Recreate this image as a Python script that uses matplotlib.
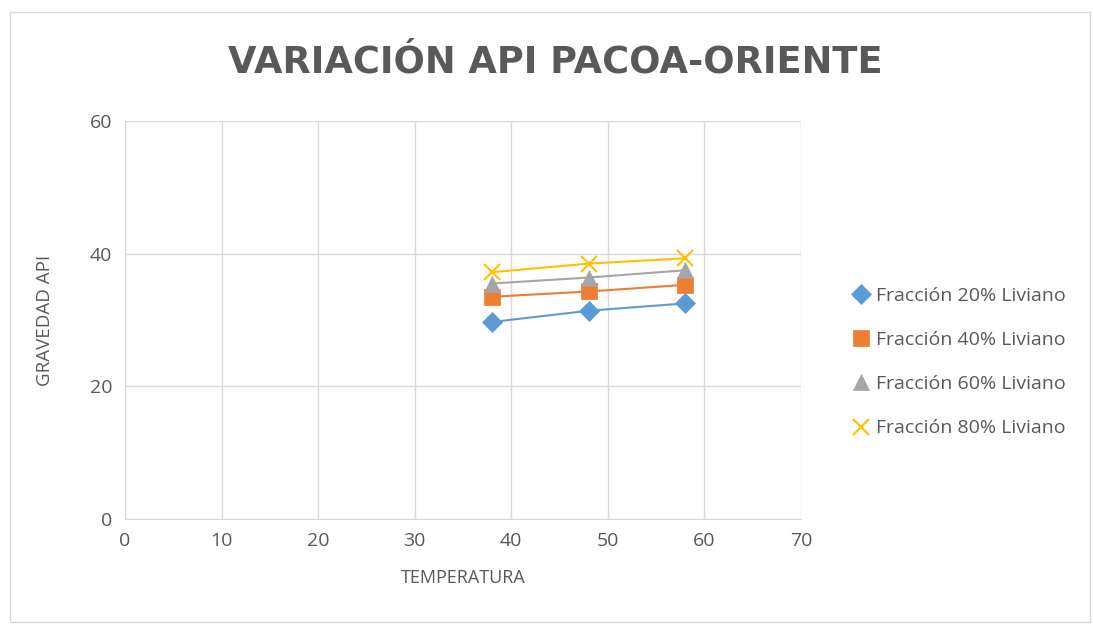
import matplotlib
matplotlib.use("Agg")
import matplotlib.pyplot as plt
from matplotlib.patches import Rectangle
from matplotlib.lines import Line2D

temps = [38, 48, 58]
api_20 = [29.7, 31.4, 32.5]
api_40 = [33.5, 34.3, 35.3]
api_60 = [35.5, 36.4, 37.5]
api_80 = [37.2, 38.5, 39.3]
labels = ["Fracción 20% Liviano", "Fracción 40% Liviano", "Fracción 60% Liviano", "Fracción 80% Liviano"]
colors = ["#5b9bd5", "#ed7d31", "#a5a5a5", "#ffc000"]
markers = ["D", "s", "^", "x"]

plt.rcParams['font.family'] = ['Open Sans', 'DejaVu Sans']
W, H = 1093, 626
fig = plt.figure(figsize=(W/100, H/100), dpi=100)
fig.patches.append(Rectangle((10/W, 1 - 622/H), 1080/W, 610/H, transform=fig.transFigure,
                             fill=False, edgecolor="#d9d9d9", linewidth=1))
ax = fig.add_axes([125/W, 1 - 519/H, (801-125)/W, (519-121)/H])

series = [api_20, api_40, api_60, api_80]
handles = []
for vals, lab, c, m in zip(series, labels, colors, markers):
    ms = {"D": 10, "s": 11, "^": 12, "x": 12}[m]
    ax.plot(temps, vals, color=c, marker=m, markersize=ms, linewidth=1.5,
            markeredgewidth=1.5 if m == "x" else 0.5, markeredgecolor=c)
    handles.append(Line2D([], [], color=c, marker=m, linestyle="none", markersize=ms,
                          markeredgewidth=1.5 if m == "x" else 0.5, markeredgecolor=c, label=lab))

ax.set_xlim(0, 70)
ax.set_ylim(0, 60)
ax.set_xticks(range(0, 71, 10))
ax.set_yticks(range(0, 61, 20))
ax.grid(True, color="#d9d9d9", linewidth=1)
ax.set_axisbelow(True)
for s in ["top", "right"]:
    ax.spines[s].set_visible(False)
for s in ["left", "bottom"]:
    ax.spines[s].set_color("#d9d9d9")
ax.tick_params(length=0, labelsize=14, colors="#595959", pad=9)
ax.set_xlabel("TEMPERATURA", fontsize=13, color="#595959", labelpad=14)
ax.set_ylabel("GRAVEDAD API", fontsize=13.5, color="#595959", labelpad=26)

fig.text(555/W, 1 - 62/H, "VARIACIÓN API PACOA-ORIENTE", ha="center", va="center",
         fontsize=26.5, fontweight="bold", color="#595959", family=["DejaVu Sans"])

leg = ax.legend(handles=handles, loc="center left", bbox_to_anchor=(836/W, 1 - 362/H),
                bbox_transform=fig.transFigure, frameon=False, fontsize=14,
                labelspacing=1.35, handlelength=0.8, handletextpad=0.35)
for t in leg.get_texts():
    t.set_color("#595959")

fig.savefig("out.png", dpi=100)
